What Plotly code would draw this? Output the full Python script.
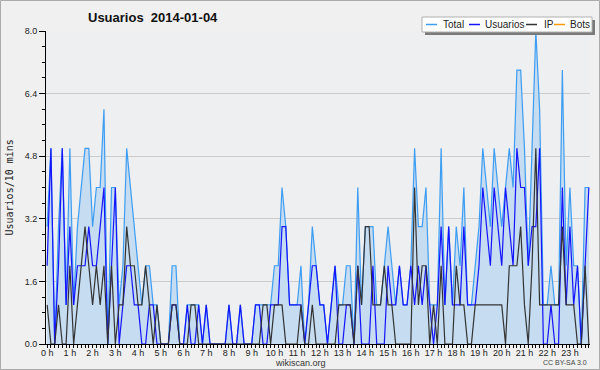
import plotly.graph_objects as go

# 10-minute slots over the day (0 = 00:00 ... 143 = 23:50)
slots = list(range(144))

total = [3,5,0,3,5,1,5,1,3,4,5,5,3,4,4,6,0,4,4,1,2,5,4,3,2,1,2,2,
         1,1,0,0,0,2,2,0,0,1,1,1,1,0,1,0,0,0,0,0,1,0,0,1,0,0,0,1,1,1,1,1,
         2,2,4,3,1,1,1,2,0,1,3,2,1,1,0,1,2,1,1,2,2,0,4,1,3,3,3,1,1,2,3,2,
         1,2,1,1,2,5,3,3,4,1,1,1,5,1,3,1,3,2,4,1,1,2,3,5,4,3,5,4,3,4,5,4,
         7,7,5,2,5,8,6,1,1,2,1,1,7,2,4,2,2,0,4,4]
usuarios = [2,5,0,2,5,1,3,1,2,2,2,3,2,2,3,4,0,2,4,0,1,2,2,1,1,0,0,1,
            1,0,0,0,0,1,1,0,0,1,0,0,1,0,1,0,0,0,0,0,1,0,0,1,0,0,0,1,1,0,0,1,
            1,1,3,3,1,1,1,1,0,1,2,2,1,1,0,1,2,0,0,1,1,0,2,0,0,0,2,0,0,0,2,1,
            1,2,1,1,2,1,2,1,2,1,0,1,3,1,3,1,1,1,3,1,1,1,2,4,3,2,4,3,2,4,3,2,
            5,4,4,2,3,3,5,0,0,1,0,0,4,1,3,1,2,0,2,4]
ip = [1,0,0,1,0,0,2,0,1,2,3,2,1,2,1,2,0,2,0,1,1,3,2,2,1,1,2,1,
      0,1,0,0,0,1,1,0,0,0,1,1,0,0,0,0,0,0,0,0,0,0,0,0,0,0,0,0,0,1,1,0,
      1,1,1,0,0,0,0,1,0,0,1,0,0,0,0,0,0,1,1,1,1,0,2,1,3,3,1,1,1,2,1,1,
      0,0,0,0,0,4,1,2,2,0,1,0,2,0,0,0,2,1,1,0,0,1,1,1,1,1,1,1,1,0,2,2,
      2,3,1,0,2,5,1,1,1,1,1,1,3,1,1,1,0,0,2,0]
bots = [0] * 144

hour_vals = [0,6,12,18,24,30,36,42,48,54,60,66,72,78,84,90,96,102,108,114,120,126,132,138]
hour_labels = ["0 h","1 h","2 h","3 h","4 h","5 h","6 h","7 h","8 h","9 h","10 h","11 h",
               "12 h","13 h","14 h","15 h","16 h","17 h","18 h","19 h","20 h","21 h","22 h","23 h"]
y_ticks = [0.0, 1.6, 3.2, 4.8, 6.4, 8.0]

series_names = ["Total", "Usuarios", "IP", "Bots"]
series_colors = ["#3d9df2", "#1414ff", "#333333", "#ff9900"]

FONT = "Liberation Sans, Arial, sans-serif"
W, H = 600, 370
L, R, T, B = 46, 10, 31, 26
PW, PH = W - L - R, H - T - B


def px(x):
    return (x - L) / PW


def py(y):
    return (H - B - y) / PH


fig = go.Figure()
fig.add_trace(go.Scatter(x=slots, y=bots, mode="lines", name="Bots",
                         line=dict(color=series_colors[3], width=1.2), showlegend=False))
fig.add_trace(go.Scatter(x=slots, y=total, mode="lines", name="Total", fill="tozeroy",
                         fillcolor="#c6dcf0", line=dict(color=series_colors[0], width=1.2),
                         showlegend=False))
fig.add_trace(go.Scatter(x=slots, y=usuarios, mode="lines", name="Usuarios",
                         line=dict(color=series_colors[1], width=1.2), showlegend=False))
fig.add_trace(go.Scatter(x=slots, y=ip, mode="lines", name="IP",
                         line=dict(color=series_colors[2], width=1.2), showlegend=False))

shapes = []
annotations = []

# outer frame
shapes.append(dict(type="rect", xref="paper", yref="paper",
                   x0=px(0.5), x1=px(599.5), y0=py(369.5), y1=py(0.5),
                   line=dict(color="#aaaaaa", width=1), fillcolor="rgba(0,0,0,0)", layer="below"))

# legend box with shadow
shapes.append(dict(type="rect", xref="paper", yref="paper",
                   x0=px(425), x1=px(595), y0=py(35), y1=py(20),
                   line=dict(width=0), fillcolor="#7a7a7a", layer="above"))
shapes.append(dict(type="rect", xref="paper", yref="paper",
                   x0=px(422), x1=px(592), y0=py(32), y1=py(17),
                   line=dict(color="#b0b0b0", width=1), fillcolor="white", layer="above"))
leg_line_x = [426, 469, 526, 554]
leg_text_x = [441, 483, 542, 568]
for name, color, lx, tx in zip(series_names, series_colors, leg_line_x, leg_text_x):
    shapes.append(dict(type="line", xref="paper", yref="paper",
                       x0=px(lx), x1=px(lx + 11), y0=py(24.5), y1=py(24.5),
                       line=dict(color=color, width=1.5), layer="above"))
    annotations.append(dict(text=name, xref="paper", yref="paper", x=px(tx), y=py(24.5),
                            xanchor="left", yanchor="middle", showarrow=False,
                            font=dict(family=FONT, size=10, color="#222222")))

# title
annotations.append(dict(text="<b>Usuarios  2014-01-04</b>", xref="paper", yref="paper",
                        x=px(86), y=py(17), xanchor="left", yanchor="middle", showarrow=False,
                        font=dict(family=FONT, size=13, color="#111111")))
# y title
annotations.append(dict(text="Usuarios/10 mins", xref="paper", yref="paper",
                        x=px(9), y=0.5, xanchor="center", yanchor="middle", showarrow=False,
                        textangle=-90, font=dict(family="DejaVu Sans Mono, monospace", size=10,
                                                 color="#222222")))
# x title and license
annotations.append(dict(text="wikiscan.org", xref="paper", yref="paper",
                        x=px(300), y=py(362.5), xanchor="center", yanchor="middle", showarrow=False,
                        font=dict(family=FONT, size=9, color="#333333")))
annotations.append(dict(text="CC BY-SA 3.0", xref="paper", yref="paper",
                        x=px(589), y=py(362.5), xanchor="right", yanchor="middle", showarrow=False,
                        font=dict(family=FONT, size=7, color="#444444")))

fig.update_layout(
    width=W, height=H,
    margin=dict(l=L, r=R, t=T, b=B, pad=0),
    paper_bgcolor="#f0f0f0",
    plot_bgcolor="#edeff1",
    showlegend=False,
    shapes=shapes,
    annotations=annotations,
    xaxis=dict(range=[-0.3, 143.3], tickmode="array", tickvals=hour_vals, ticktext=hour_labels,
               ticks="outside", ticklen=3, tickcolor="black", tickwidth=1,
               ticklabelstandoff=-3,
               showline=True, linecolor="black", linewidth=1, showgrid=False, zeroline=False,
               tickfont=dict(family=FONT, size=9, color="#222222"),
               minor=dict(tickmode="array", tickvals=slots, ticks="outside", ticklen=3,
                          tickcolor="black", showgrid=False)),
    yaxis=dict(range=[0, 8], tickmode="array", tickvals=y_ticks,
               ticktext=[f"{v:.1f}" for v in y_ticks],
               ticks="outside", ticklen=6, tickcolor="black", tickwidth=1,
               showline=True, linecolor="black", linewidth=1,
               showgrid=True, gridcolor="#cccccc", gridwidth=1, zeroline=False,
               tickfont=dict(family=FONT, size=9, color="#222222"),
               minor=dict(dtick=0.4, tick0=0, ticks="outside", ticklen=3, tickcolor="black",
                          showgrid=False)),
)

fig.write_html("out.html", config={"displayModeBar": False},
               post_script="document.body.style.margin='0';document.body.style.padding='0';")
